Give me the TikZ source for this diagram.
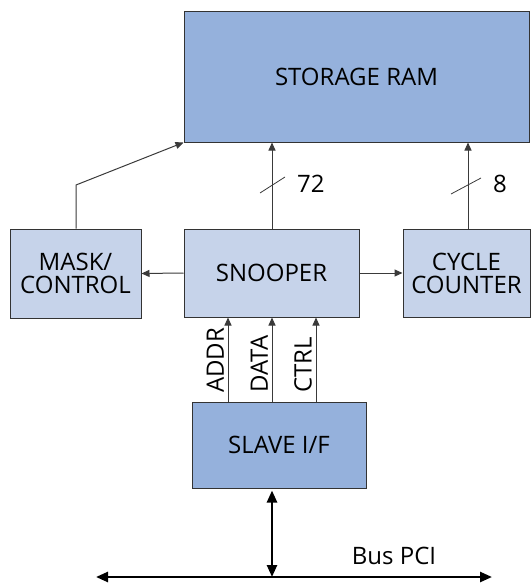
\documentclass[tikz,border=0pt]{standalone}
\usepackage{fontspec}
\setmainfont{Open Sans}
\usetikzlibrary{arrows.meta}
\definecolor{darkblk}{HTML}{95B1DC}
\definecolor{lightblk}{HTML}{C6D3EA}
\definecolor{edge}{HTML}{333333}
\definecolor{wire}{HTML}{3A3A3A}
\tikzset{
  blk/.style={draw=edge, line width=1pt, inner sep=0pt, align=center, font=\fontsize{24}{23}\selectfont},
  dblk/.style={blk, fill=darkblk},
  lblk/.style={blk, fill=lightblk},
  wirearrow/.style={draw=wire, line width=1pt, -{Triangle[length=8pt,width=7pt]}},
  buswire/.style={draw=black, line width=2.5pt, {Triangle[length=12pt,width=10pt]}-{Triangle[length=12pt,width=10pt]}},
  sigtext/.style={font=\fontsize{24}{23}\selectfont, inner sep=0pt},
  slash/.style={draw=wire, line width=0.8pt}
}
\begin{document}
\begin{tikzpicture}[x=1pt,y=-1pt]
\useasboundingbox (0,0) rectangle (530,583);
\node[dblk, minimum width=345pt, minimum height=130pt] (ram) at (356.5,77) {STORAGE RAM};
\node[lblk, minimum width=131pt, minimum height=89pt] (mask) at (75.5,273.5) {MASK/\\CONTROL};
\node[lblk, minimum width=175pt, minimum height=88pt] (snoop) at (271.5,273) {SNOOPER};
\node[lblk, minimum width=127pt, minimum height=88pt] (cycle) at (466.5,273) {CYCLE\\COUNTER};
\node[dblk, minimum width=174pt, minimum height=86pt] (slave) at (279,445) {SLAVE I/F};

% mask to RAM
\coordinate (mbend) at (76,185);
\draw[wirearrow] (mask.north -| mbend) -- (mbend) -- (ram.south west);
% snooper to RAM (72)
\draw[wirearrow] (snoop.north -| 272,0) -- (ram.south -| 272,0);
\draw[slash] (260,193) -- (285,177);
\node[sigtext, anchor=west] (n72) at (297,184) {72};
% cycle to RAM (8)
\draw[wirearrow] (cycle.north -| 468,0) -- (ram.south -| 468,0);
\draw[slash] (451,194) -- (481,178);
\node[sigtext, anchor=west] (n8) at (493,184) {8};
% horizontal
\draw[wirearrow] (snoop.west) -- (mask.east);
\draw[wirearrow] (snoop.east) -- (cycle.west);
% slave to snooper signals
\draw[wirearrow] (slave.north -| 228,0) -- (snoop.south -| 228,0);
\draw[wirearrow] (slave.north -| 272,0) -- (snoop.south -| 272,0);
\draw[wirearrow] (slave.north -| 316,0) -- (snoop.south -| 316,0);
\node[sigtext, rotate=90, anchor=south west] (addr) at (224,393) {ADDR};
\node[sigtext, rotate=90, anchor=south west] (data) at (268,393) {DATA};
\node[sigtext, rotate=90, anchor=south west] (ctrl) at (312,393) {CTRL};
% bus
\coordinate (busL) at (96,577);
\coordinate (busR) at (492,577);
\coordinate (busT) at (272,577);
\draw[buswire] (busL) -- (busR);
\draw[buswire] (slave.south -| busT) ++(0,2) -- (busT);
\node[sigtext] (bus) at (394,556) {Bus PCI};
\end{tikzpicture}
\end{document}
